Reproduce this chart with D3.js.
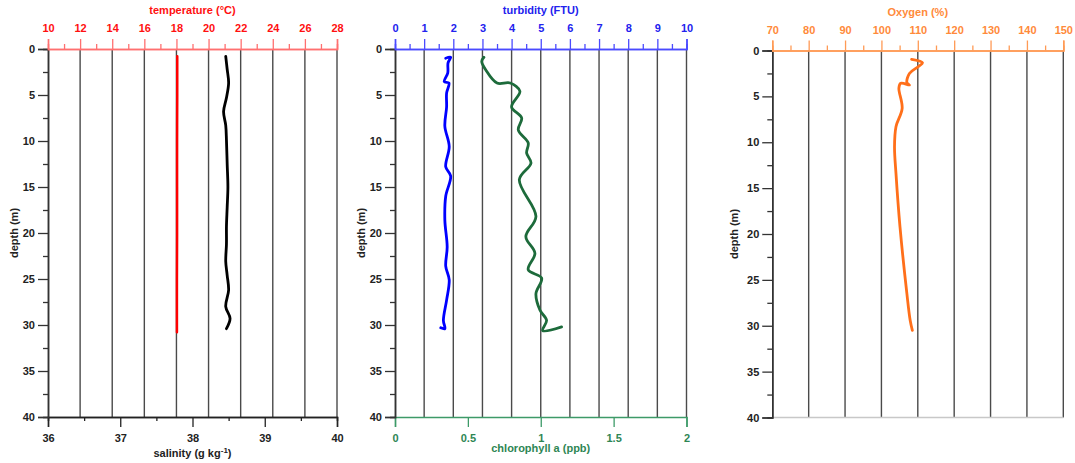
<!DOCTYPE html>
<html>
<head>
<meta charset="utf-8">
<script src="https://cdn.jsdelivr.net/npm/d3@7"></script>
<style>
  body { margin: 0; background: #fff; }
  svg { display: block; }
  text { font-family: "Liberation Sans", Arial, sans-serif; font-weight: bold; }
</style>
</head>
<body>
<div id="chart"></div>
<script>
var W = 1075, H = 463;

// depth axis
var depthTicks = [0, 5, 10, 15, 20, 25, 30, 35, 40];

// panel 1: temperature / salinity
var tempTicks = [10, 12, 14, 16, 18, 20, 22, 24, 26, 28];
var salTicks = [36, 37, 38, 39, 40];
var tempDepth = [0.8, 5, 10, 15, 20, 25, 30.8];
var tempValue = [18.05, 18.05, 18.04, 18.04, 18.04, 18.03, 18.03];
var salDepth = [0.8, 2.2, 3.7, 5.3, 6.8, 8.3, 9.9, 12.5, 15, 17.2, 19.3, 21.2, 23.1, 24.6, 26.2, 28, 29.3, 30.4];
var salValue = [38.46, 38.48, 38.5, 38.47, 38.43, 38.46, 38.47, 38.48, 38.49, 38.48, 38.47, 38.47, 38.46, 38.48, 38.5, 38.46, 38.52, 38.47];

// panel 2: turbidity / chlorophyll
var turbTicks = [0, 1, 2, 3, 4, 5, 6, 7, 8, 9, 10];
var chlTicks = [0, 0.5, 1, 1.5, 2];
var turbDepth = [1.0, 0.9, 1.5, 2.6, 3.55, 3.7, 4.8, 6.3, 8.4, 10.6, 12.8, 13.8, 16, 18.6, 21.5, 23.6, 25.1, 27.3, 29.5, 30.4, 30.3];
var turbValue = [1.74, 1.91, 1.82, 1.81, 1.69, 1.85, 1.77, 1.77, 1.71, 1.86, 1.74, 1.91, 1.74, 1.71, 1.79, 1.74, 1.86, 1.77, 1.66, 1.71, 1.57];
var chlDepth = [0.9, 1.35, 2.3, 3.7, 3.7, 4.6, 6.3, 7.5, 8.8, 10.2, 11.3, 12.4, 14.2, 18.2, 20.4, 22.2, 24, 24.9, 26.6, 28.4, 29.5, 30.6, 30.2];
var chlValue = [0.61, 0.595, 0.624, 0.7, 0.79, 0.857, 0.8, 0.869, 0.846, 0.914, 0.903, 0.933, 0.853, 0.967, 0.898, 0.96, 0.914, 1.006, 0.967, 0.995, 1.04, 1.013, 1.143];

// panel 3: oxygen
var oxyTicks = [70, 80, 90, 100, 110, 120, 130, 140, 150];
var oxyDepth = [0.96, 1.33, 1.77, 2.5, 3.5, 3.76, 3.58, 4.1, 6.3, 8.3, 10.5, 13.4, 19.2, 26.5, 29.4, 30.5];
var oxyValue = [108.3, 111.3, 110.1, 107.7, 107.0, 107.7, 105.3, 104.8, 105.7, 104.0, 103.6, 104.0, 105.1, 107.0, 107.9, 108.5];

var svg = d3.select("#chart").append("svg")
  .attr("width", W).attr("height", H);

function zip(d, v) {
  return d.map(function(x, i) { return { depth: x, value: v[i] }; });
}

function minorTicks(ticks, step) {
  var out = [];
  for (var i = 0; i < ticks.length - 1; i++) out.push(ticks[i] + step);
  return out;
}

function styleAxis(sel, color) {
  sel.selectAll("path.domain").attr("stroke", color).attr("stroke-width", 1.5);
  sel.selectAll(".tick line").attr("stroke", color).attr("stroke-width", 1.3);
  sel.selectAll("text").attr("font-size", 11).attr("font-family", "Liberation Sans, Arial, sans-serif").attr("font-weight", "bold");
  sel.attr("font-size", 11);
}

function drawPanel(p) {
  var g = svg.append("g");
  var y = d3.scaleLinear().domain([0, 40]).range([p.top, p.bottom]);
  var xTop = d3.scaleLinear().domain([p.topTicks[0], p.topTicks[p.topTicks.length - 1]]).range([p.left, p.right]);
  var xBot = null;

  // vertical grid
  g.selectAll("line.grid")
    .data(p.topTicks.slice(1))
    .enter().append("line")
    .attr("x1", function(d) { return xTop(d); })
    .attr("x2", function(d) { return xTop(d); })
    .attr("y1", p.top).attr("y2", p.bottom)
    .attr("stroke", "#4a4a4a").attr("stroke-width", 1.4);

  // bottom axis
  if (p.botTicks) {
    xBot = d3.scaleLinear().domain([p.botTicks[0], p.botTicks[p.botTicks.length - 1]]).range([p.left, p.right]);
    if (p.botMinor) {
      g.append("g").attr("transform", "translate(0," + p.bottom + ")")
        .call(d3.axisBottom(xBot).tickValues(p.botMinor).tickSize(4).tickFormat(""))
        .call(styleAxis, p.botColor);
    }
    var ab = g.append("g").attr("transform", "translate(0," + p.bottom + ")")
      .call(d3.axisBottom(xBot).tickValues(p.botTicks).tickSize(10).tickPadding(7).tickFormat(d3.format("")))
      .call(styleAxis, p.botColor);
    ab.selectAll("text").attr("fill", p.botText);
    var bt = g.append("text").attr("x", (p.left + p.right) / 2).attr("y", p.botTitleY)
      .attr("text-anchor", "middle").attr("fill", p.botText).attr("font-size", 11);
    bt.append("tspan").text(p.botTitle);
    if (p.botSup) {
      bt.append("tspan").attr("dy", -4).attr("font-size", 8).text(p.botSup);
      bt.append("tspan").attr("dy", 4).text(")");
    }
  } else {
    g.append("line").attr("x1", p.left).attr("x2", p.right)
      .attr("y1", p.bottom).attr("y2", p.bottom)
      .attr("stroke", "#c8c8c8").attr("stroke-width", 1.5);
  }

  // left depth axis
  g.append("g").attr("transform", "translate(" + p.left + ",0)")
    .call(d3.axisLeft(y).tickValues(minorTicks(depthTicks, 2.5)).tickSize(5).tickFormat(""))
    .call(styleAxis, "#333");
  g.append("g").attr("transform", "translate(" + p.left + ",0)")
    .call(d3.axisLeft(y).tickValues(depthTicks).tickSize(10).tickPadding(3))
    .call(styleAxis, "#333")
    .selectAll("text").attr("fill", "#222");
  g.append("text")
    .attr("transform", "translate(" + p.depthLabelX + "," + ((p.top + p.bottom) / 2) + ") rotate(-90)")
    .attr("text-anchor", "middle").attr("font-size", 11).attr("fill", "#222")
    .text("depth (m)");

  // top axis
  g.append("g").attr("transform", "translate(0," + p.top + ")")
    .call(d3.axisTop(xTop).tickValues(p.topMinor).tickSize(5).tickFormat(""))
    .call(styleAxis, p.topColor);
  var at = g.append("g").attr("transform", "translate(0," + p.top + ")")
    .call(d3.axisTop(xTop).tickValues(p.topTicks).tickSize(10).tickPadding(7))
    .call(styleAxis, p.topColor);
  at.selectAll("text").attr("fill", p.topText);
  g.append("text").attr("x", (p.left + p.right) / 2).attr("y", p.topTitleY)
    .attr("text-anchor", "middle").attr("fill", p.topText).attr("font-size", 11)
    .text(p.topTitle);

  // data lines
  p.series.forEach(function(s) {
    var sx = s.axis === "bottom" ? xBot : xTop;
    var line = d3.line()
      .x(function(d) { return sx(d.value); })
      .y(function(d) { return y(d.depth); })
      .curve(d3.curveCatmullRom.alpha(0.5));
    g.append("path").datum(s.data)
      .attr("d", line)
      .attr("fill", "none")
      .attr("stroke", s.color)
      .attr("stroke-width", s.width)
      .attr("stroke-linecap", "round")
      .attr("stroke-linejoin", "round");
  });
}

drawPanel({
  left: 48, right: 337, top: 49, bottom: 417, depthLabelX: 18,
  topTicks: tempTicks, topMinor: minorTicks(tempTicks, 1),
  topColor: "#ff7070", topText: "#ff1010", topTitle: "temperature (\u00B0C)", topTitleY: 14,
  botTicks: salTicks, botMinor: minorTicks(salTicks, 0.5),
  botColor: "#222", botText: "#222", botTitle: "salinity (g kg", botSup: "-1", botTitleY: 457,
  series: [
    { data: zip(tempDepth, tempValue), axis: "top", color: "#ff0000", width: 2.5 },
    { data: zip(salDepth, salValue), axis: "bottom", color: "#000", width: 2.8 }
  ]
});

drawPanel({
  left: 395, right: 686.5, top: 49, bottom: 417, depthLabelX: 365,
  topTicks: turbTicks, topMinor: minorTicks(turbTicks, 0.5),
  topColor: "#4a4aff", topText: "#2222ee", topTitle: "turbidity (FTU)", topTitleY: 14,
  botTicks: chlTicks, botMinor: null,
  botColor: "#3d9a68", botText: "#2e8654", botTitle: "chlorophyll a (ppb)", botTitleY: 452,
  series: [
    { data: zip(turbDepth, turbValue), axis: "top", color: "#0000ff", width: 2.8 },
    { data: zip(chlDepth, chlValue), axis: "bottom", color: "#1d6b3b", width: 2.8 }
  ]
});

drawPanel({
  left: 772.3, right: 1063.3, top: 50.5, bottom: 417.5, depthLabelX: 738,
  topTicks: oxyTicks, topMinor: minorTicks(oxyTicks, 5),
  topColor: "#ff9a55", topText: "#ff8a3a", topTitle: "Oxygen (%)", topTitleY: 16,
  botTicks: null,
  series: [
    { data: zip(oxyDepth, oxyValue), axis: "top", color: "#ff6f1a", width: 2.8 }
  ]
});
</script>
</body>
</html>
